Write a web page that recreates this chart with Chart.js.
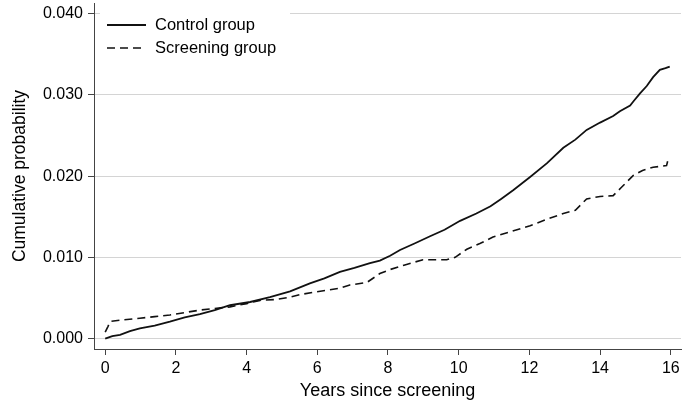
<!DOCTYPE html>
<html>
<head>
<meta charset="utf-8">
<script src="https://cdn.jsdelivr.net/npm/chart.js@4.4.1/dist/chart.umd.min.js"></script>
<style>
  body { margin: 0; background: #fff; }
  canvas { display: block; }
</style>
</head>
<body>
<canvas id="myChart" width="682" height="406"></canvas>
<script>
// values
var controlYears = [0, 0.2, 0.42, 0.7, 0.98, 1.4, 1.83, 2.25, 2.68, 3.1, 3.53, 4.1, 4.66, 5.23, 5.79, 6.2, 6.64, 7.05, 7.49, 7.77, 8.06, 8.34, 8.75, 9.19, 9.6, 10.04, 10.5, 10.9, 11.2, 11.55, 12.02, 12.5, 12.96, 13.3, 13.62, 14.0, 14.37, 14.56, 14.85, 14.94, 15.13, 15.32, 15.5, 15.69, 15.85, 15.97];
var controlRisk = [0, 0.0003, 0.00045, 0.0009, 0.00126, 0.0016, 0.00207, 0.0026, 0.0030, 0.0035, 0.0041, 0.0045, 0.0051, 0.0058, 0.0068, 0.0074, 0.0082, 0.0087, 0.0093, 0.0096, 0.0102, 0.0109, 0.0117, 0.0126, 0.0134, 0.0145, 0.0154, 0.0163, 0.0172, 0.0183, 0.0199, 0.0216, 0.0235, 0.0245, 0.0257, 0.0266, 0.0274, 0.0280, 0.0287, 0.0292, 0.0302, 0.0311, 0.0322, 0.0331, 0.0333, 0.0335];

var screenYears = [0, 0.08, 0.14, 0.5, 0.98, 1.4, 1.83, 2.25, 2.68, 3.1, 3.53, 4.0, 4.38, 4.8, 5.23, 5.5, 5.9, 6.36, 6.64, 6.92, 7.4, 7.77, 8.06, 8.5, 8.99, 9.3, 9.66, 9.9, 10.23, 10.6, 10.97, 11.5, 12.02, 12.5, 12.96, 13.3, 13.62, 14.0, 14.37, 14.6, 14.94, 15.2, 15.5, 15.88, 15.92, 15.95];
var screenRisk = [0.0008, 0.0015, 0.0021, 0.0023, 0.0025, 0.0027, 0.0029, 0.0032, 0.0035, 0.0037, 0.0039, 0.0043, 0.0047, 0.0048, 0.0051, 0.0054, 0.0057, 0.0060, 0.0062, 0.0066, 0.0069, 0.0080, 0.0085, 0.0091, 0.0097, 0.0097, 0.0097, 0.0100, 0.0110, 0.0117, 0.0125, 0.0132, 0.0139, 0.0147, 0.0154, 0.0158, 0.0172, 0.0175, 0.0176, 0.0186, 0.0201, 0.0207, 0.0211, 0.0213, 0.0220, 0.0221];

var xTicks = [0, 2, 4, 6, 8, 10, 12, 14, 16];
var yTicks = [0, 0.01, 0.02, 0.03, 0.04];

var FONT = "'Liberation Sans', Arial, Helvetica, sans-serif";

function toPoints(xs, ys) {
    return xs.map((x, i) => ({ x: x, y: ys[i] }));
}

// legend drawn inside the plot, top left, on a white box
var insideLegend = {
    id: 'insideLegend',
    afterDraw(chart) {
        let ctx = chart.ctx;
        let left = chart.chartArea.left;
        ctx.save();
        ctx.fillStyle = '#fff';
        ctx.fillRect(left + 6, 0, 190, 62);
        chart.data.datasets.forEach((ds, i) => {
            let y = 25 + i * 23;
            ctx.beginPath();
            ctx.setLineDash(ds.borderDash || []);
            ctx.lineWidth = ds.borderWidth;
            ctx.strokeStyle = ds.borderColor;
            ctx.moveTo(left + 13, y);
            ctx.lineTo(left + 52, y);
            ctx.stroke();
            ctx.setLineDash([]);
            ctx.fillStyle = '#000';
            ctx.font = "16.5px " + FONT;
            ctx.textBaseline = 'middle';
            ctx.fillText(ds.label, left + 61, y);
        });
        ctx.restore();
    }
};

var ctx = document.getElementById('myChart');

var myChart = new Chart(ctx, {
    type: 'line',
    data: {
        datasets: [
            {
                label: 'Control group',
                data: toPoints(controlYears, controlRisk),
                borderColor: '#111',
                borderWidth: 1.8,
                pointRadius: 0,
                tension: 0,
                fill: false
            },
            {
                label: 'Screening group',
                data: toPoints(screenYears, screenRisk),
                borderColor: '#111',
                borderWidth: 1.6,
                borderDash: [8, 5],
                pointRadius: 0,
                tension: 0,
                fill: false
            }
        ]
    },
    options: {
        responsive: false,
        animation: false,
        layout: { padding: { top: 3, right: 1, left: 0, bottom: 0 } },
        plugins: {
            legend: { display: false },
            tooltip: { enabled: false }
        },
        scales: {
            x: {
                type: 'linear',
                min: -0.317,
                max: 16.289,
                afterBuildTicks: (axis) => { axis.ticks = xTicks.map(v => ({ value: v })); },
                afterFit: (axis) => {
                    axis.height = 57;
                    axis.paddingLeft = 0;
                    axis.paddingRight = 0;
                },
                grid: {
                    drawOnChartArea: false,
                    tickLength: 6,
                    tickColor: '#444'
                },
                border: { color: '#444', width: 1 },
                ticks: {
                    color: '#000',
                    padding: 4,
                    maxRotation: 0,
                    font: { family: FONT, size: 16 }
                },
                title: {
                    display: true,
                    text: 'Years since screening',
                    color: '#000',
                    padding: { top: 0, bottom: 4 },
                    font: { family: FONT, size: 18 }
                }
            },
            y: {
                min: -0.00129,
                max: 0.04133,
                afterBuildTicks: (axis) => { axis.ticks = yTicks.map(v => ({ value: v })); },
                afterFit: (axis) => {
                    axis.width = 94;
                    axis.paddingTop = 0;
                    axis.paddingBottom = 0;
                },
                grid: {
                    color: '#d4d4d4',
                    lineWidth: 1,
                    tickLength: 6,
                    tickColor: '#444'
                },
                border: { color: '#444', width: 1 },
                ticks: {
                    color: '#000',
                    padding: 5,
                    font: { family: FONT, size: 16 },
                    callback: (v) => v.toFixed(3)
                },
                title: {
                    display: true,
                    text: 'Cumulative probability',
                    color: '#000',
                    padding: { top: 9.5, bottom: 0 },
                    font: { family: FONT, size: 17.5 }
                }
            }
        }
    },
    plugins: [insideLegend]
});
</script>
</body>
</html>
